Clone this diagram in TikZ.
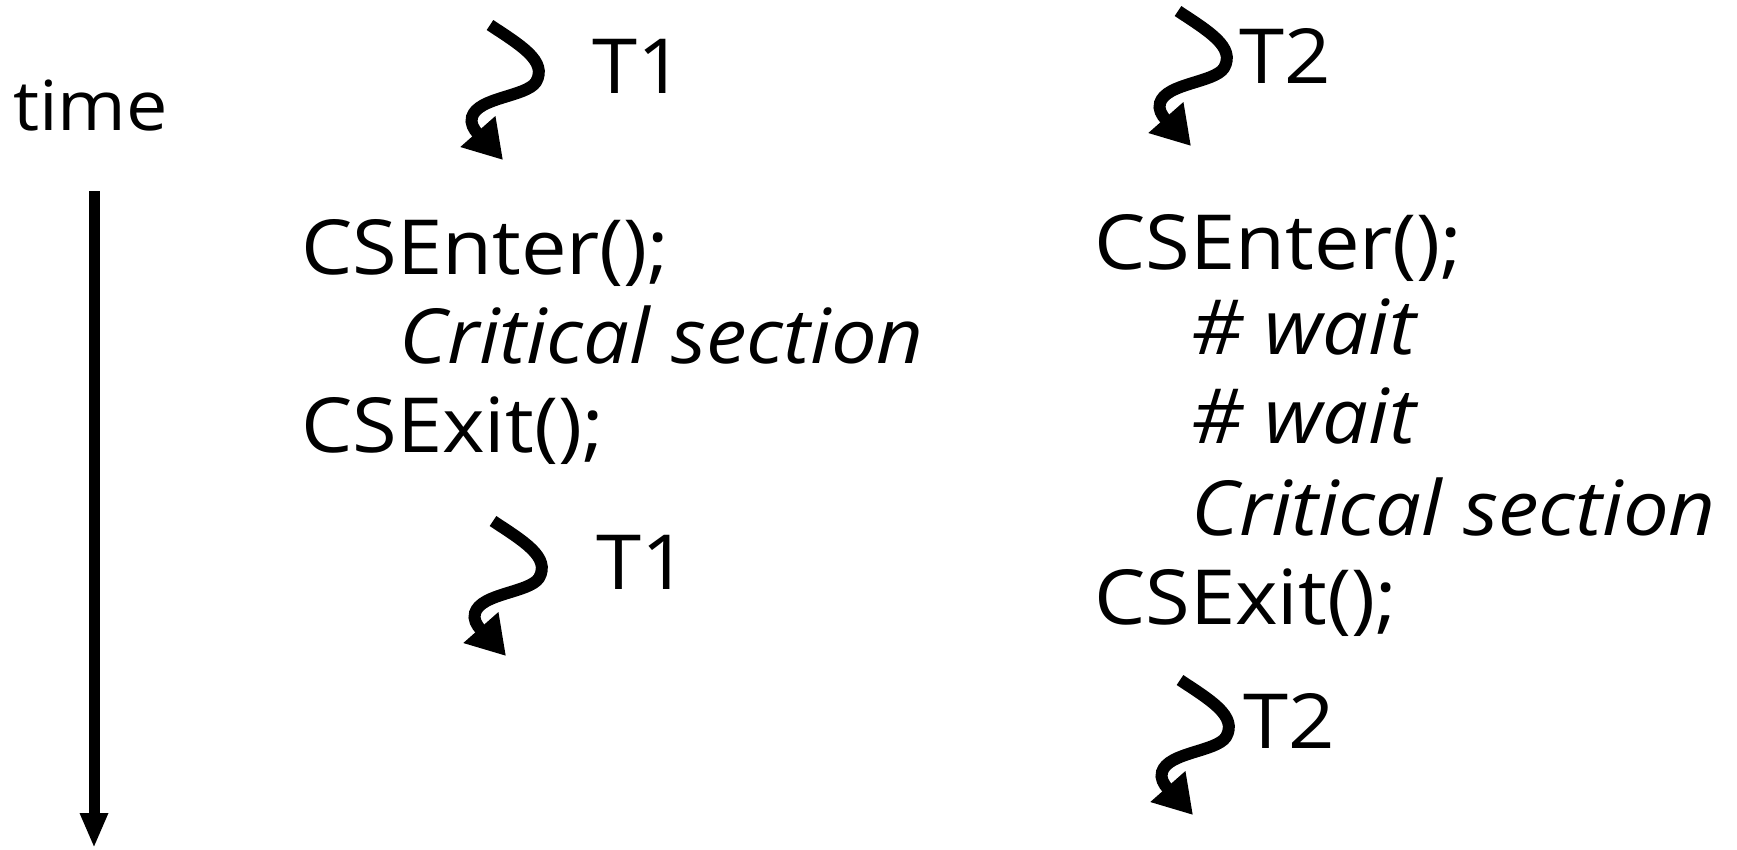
\documentclass[tikz,border=0pt]{standalone}
\usepackage{fontspec}
\setmainfont[FakeStretch=1.07]{Open Sans}
\usetikzlibrary{arrows.meta}
\tikzset{
  txt/.style={font=\fontsize{76}{89}\selectfont, inner sep=0pt, anchor=base west},
  itxt/.style={txt, font=\fontsize{76}{89}\selectfont\itshape},
  timetxt/.style={txt, font=\fontsize{69}{80}\selectfont},
  squig/.style={line width=12pt, -{Triangle[length=38pt,width=44pt]}},
  tarrow/.style={line width=11pt, -{Triangle[length=35pt,width=26pt]}},
  squiggle/.pic={\draw[squig] (0,0) .. controls (30,20) and (58,36) .. (46,57) .. controls (36,72) and (-12,72) .. (-18,92) .. controls (-22,104) and (-2,118) .. (13,135);}
}
\begin{document}
\begin{tikzpicture}[x=1pt,y=-1pt]
\useasboundingbox (0,0) rectangle (1737,849);
% time axis
\node[timetxt] (time) at (13,130) {time};
\coordinate (ts) at (94,191);
\coordinate (te) at (94,848);
\draw[tarrow] (ts) -- (te);
% thread T1
\pic at (490,25) {squiggle};
\node[txt] (t1a) at (592,93) {T1};
\node[txt] (a1) at (301,274) {CSEnter();};
\node[itxt] (a2) at (399,363) {Critical section};
\node[txt] (a3) at (301,452) {CSExit();};
\pic at (493,521) {squiggle};
\node[txt] (t1b) at (596,589) {T1};
% thread T2
\pic at (1178,11) {squiggle};
\node[txt] (t2a) at (1239,83) {T2};
\node[txt] (b1) at (1094,269) {CSEnter();};
\node[itxt] (b2) at (1191,354) {\# wait};
\node[itxt] (b3) at (1191,443) {\# wait};
\node[itxt] (b4) at (1191,535) {Critical section};
\node[txt] (b5) at (1094,624) {CSExit();};
\pic at (1180,680) {squiggle};
\node[txt] (t2b) at (1243,748) {T2};
\end{tikzpicture}
\end{document}
